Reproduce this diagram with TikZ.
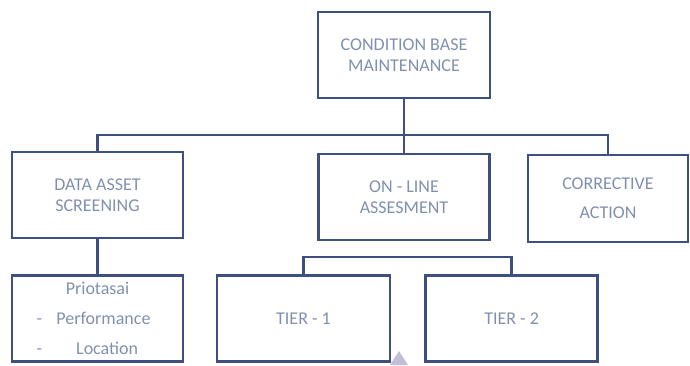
\documentclass[tikz,border=0pt]{standalone}
\usepackage{fontspec}
\setmainfont{Carlito}
\usetikzlibrary{positioning}

\definecolor{boxline}{HTML}{3E5080}
\definecolor{boxtext}{HTML}{8190B0}

\begin{document}
\begin{tikzpicture}[
    x=1pt, y=-1pt,
    font=\fontsize{18}{21}\selectfont,
    box/.style={draw=boxline, line width=2.6pt, align=center, text=boxtext,
      minimum width=171pt, minimum height=86pt, inner sep=2pt},
    link/.style={draw=boxline, line width=2.6pt}
  ]
    \useasboundingbox (0,0) rectangle (690,365);
    \node[box, minimum width=172pt] (cbm) at (404,55) {CONDITION BASE\\MAINTENANCE};
    \node[box] (data) at (97.5,195) {DATA ASSET\\SCREENING};
    \node[box, below=35pt of data, font=\fontsize{18}{30}\selectfont] (prio)
      {Priotasai\\\makebox[122pt][l]{-\hspace{0.8em}Performance}\\\makebox[122pt][l]{-\hspace{1.9em}Location}};
    \node[box] (online) at (404,197) {ON - LINE\\ASSESMENT};
    \node[box, minimum width=160pt, minimum height=87pt] (corr) at (608,198.5) {CORRECTIVE\\[8pt]ACTION};
    \node[box, minimum width=173pt] (t1) at (303.5,318.5) {TIER - 1};
    \node[box, minimum width=172pt, right=33pt of t1] (t2) {TIER - 2};
    % bus lines
    \coordinate (bus) at (404,135);
    \coordinate (tbus) at (404,257);
    \draw[link] (cbm) -- (online);
    \draw[link] (data.north) |- (bus) -| (corr.north);
    \draw[link] (data) -- (prio);
    \draw[link] (t1.north) |- (tbus) -| (t2.north);
    % pointer mark at the bottom
    \fill[blue!25!gray!40] (390,365) -- (399,351) -- (408,365) -- cycle;
  \end{tikzpicture}
\end{document}
